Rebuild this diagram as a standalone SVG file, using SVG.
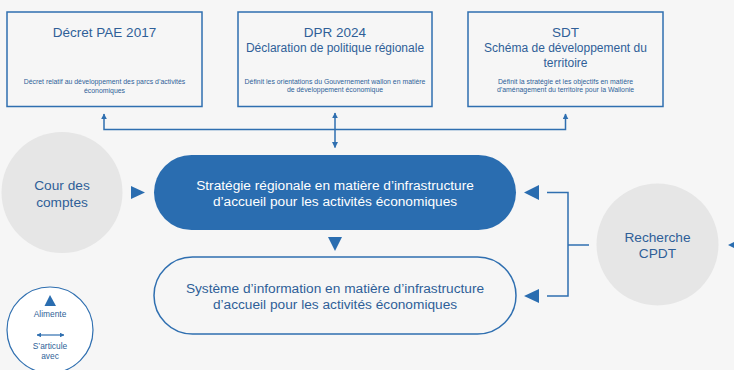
<svg xmlns="http://www.w3.org/2000/svg" width="734" height="370" viewBox="0 0 734 370">
<style>
.box{fill:#f6f6f6;stroke:#2f6fb0;stroke-width:1.5}
.t{font-family:"Liberation Sans",Arial,sans-serif;fill:#2f5f98;text-anchor:middle}
.h{font-size:13.5px}
.h2{font-size:12px}
.s{font-size:6.9px}
.c{font-size:13.7px}
.l{font-size:8.4px}
.w{fill:#ffffff}
.ln{fill:none;stroke:#2f6fb0;stroke-width:1.5}
.tri{fill:#2a6db0}
.circ{fill:#e6e6e6}
</style>
<defs>
<marker id="ah" viewBox="0 0 10 10" refX="9" refY="5" markerWidth="4" markerHeight="4" orient="auto-start-reverse">
<path d="M0,0 L10,5 L0,10 z" fill="#2f6fb0"/>
</marker>
</defs>
<rect width="734" height="370" fill="#f6f6f6"/>

<g id="connectors">
<polyline class="ln" points="104,114 104,129.5 565.5,129.5 565.5,114" marker-start="url(#ah)" marker-end="url(#ah)"/>
<line class="ln" x1="335" y1="113" x2="335" y2="147.5" marker-start="url(#ah)" marker-end="url(#ah)"/>
<polygon class="tri" points="131,186 145,192.5 131,199"/>
<polygon class="tri" points="328,237 342,237 335,251"/>
<polygon class="tri" points="539,185 539,200 524,192.5"/>
<polygon class="tri" points="539,289 539,303 524,296"/>
<polyline class="ln" points="547,192.5 568,192.5 568,296 547,296"/>
<line class="ln" x1="568" y1="245" x2="589" y2="245"/>
<polygon class="tri" points="728,245 742,238 742,252"/>
</g>

<g id="decret">
<rect class="box" x="7" y="12" width="195" height="94.5"/>
<text class="t h" x="104.5" y="37">Décret PAE 2017</text>
<text class="t s" x="104.5" y="84">Décret relatif au développement des parcs d’activités</text>
<text class="t s" x="104.5" y="92.5">économiques</text>
</g>

<g id="dpr">
<rect class="box" x="238" y="12" width="194" height="94.5"/>
<text class="t h" x="335" y="37">DPR 2024</text>
<text class="t h2" x="335" y="52">Déclaration de politique régionale</text>
<text class="t s" x="335" y="83.5">Définit les orientations du Gouvernement wallon en matière</text>
<text class="t s" x="335" y="92">de développement économique</text>
</g>

<g id="sdt">
<rect class="box" x="468" y="12" width="195" height="94.5"/>
<text class="t h" x="565.5" y="37">SDT</text>
<text class="t h2" x="565.5" y="52">Schéma de développement du</text>
<text class="t h2" x="565.5" y="66.5">territoire</text>
<text class="t s" x="565.5" y="83.5">Définit la stratégie et les objectifs en matière</text>
<text class="t s" x="565.5" y="92">d’aménagement du territoire pour la Wallonie</text>
</g>

<g id="cour">
<circle class="circ" cx="62" cy="192.5" r="60.5"/>
<text class="t c" x="62" y="190">Cour des</text>
<text class="t c" x="62" y="207">comptes</text>
</g>

<g id="strategie">
<rect x="154" y="155" width="362" height="75" rx="37.5" fill="#2a6db0"/>
<text class="t c w" x="335" y="190">Stratégie régionale en matière d’infrastructure</text>
<text class="t c w" x="335" y="206">d’accueil pour les activités économiques</text>
</g>

<g id="systeme">
<rect x="154" y="257" width="362" height="77" rx="38.5" fill="#f6f6f6" stroke="#2f6fb0" stroke-width="1.5"/>
<text class="t c" x="335" y="293">Système d’information en matière d’infrastructure</text>
<text class="t c" x="335" y="308.5">d’accueil pour les activités économiques</text>
</g>

<g id="cpdt">
<circle class="circ" cx="657.5" cy="244.5" r="61"/>
<text class="t c" x="657.5" y="242">Recherche</text>
<text class="t c" x="657.5" y="257.5">CPDT</text>
</g>

<g id="legend">
<circle cx="50" cy="330" r="43" fill="#ffffff" stroke="#2f6fb0" stroke-width="1.2"/>
<polygon class="tri" points="50,295 56,306 44.5,306"/>
<text class="t l" x="50" y="317">Alimente</text>
<line x1="37" y1="335" x2="64" y2="335" stroke="#2f6fb0" stroke-width="1.2" marker-start="url(#ah)" marker-end="url(#ah)"/>
<text class="t l" x="50" y="349">S’articule</text>
<text class="t l" x="50" y="358.5">avec</text>
</g>
</svg>
